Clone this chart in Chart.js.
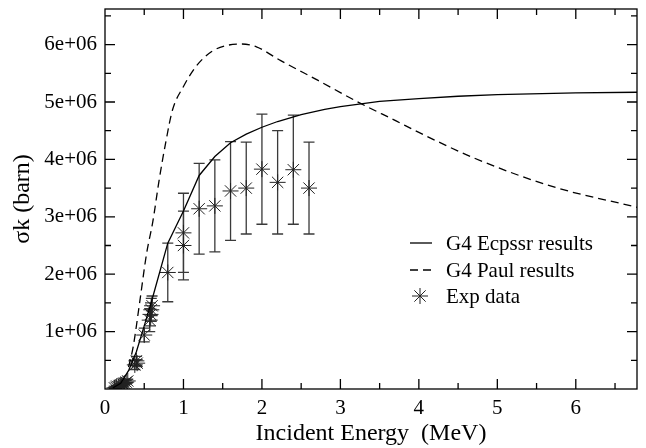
<!DOCTYPE html>
<html>
<head>
<meta charset="utf-8">
<script src="https://cdn.jsdelivr.net/npm/chart.js@4/dist/chart.umd.min.js"></script>
<style>
  html, body { margin: 0; padding: 0; background: #fff; }
  #grfk { display: block; }
</style>
</head>
<body>
<canvas id="grfk" width="646" height="448"></canvas>
<script>
// G4 Ecpssr (solid)
const ecpssrE = [0.1, 0.2, 0.3, 0.4, 0.5, 0.6, 0.8, 1.0, 1.2, 1.4, 1.6, 1.8, 2.0, 2.2, 2.5, 2.8, 3.0, 3.5, 4.0, 4.5, 5.0, 6.0, 6.8];
const ecpssrSigma = [0.02e6, 0.1e6, 0.32e6, 0.65e6, 1.1e6, 1.56e6, 2.54e6, 3.1e6, 3.72e6, 4.05e6, 4.29e6, 4.44e6, 4.56e6, 4.66e6, 4.78e6, 4.87e6, 4.92e6, 5.01e6, 5.06e6, 5.1e6, 5.13e6, 5.16e6, 5.17e6];

// G4 Paul (dashed)
const paulE = [0.3, 0.36, 0.44, 0.53, 0.61, 0.69, 0.78, 0.86, 1.0, 1.16, 1.36, 1.57, 1.74, 1.93, 2.24, 2.71, 3.25, 3.71, 4.0, 4.71, 5.72, 6.8];
const paulSigma = [0.38e6, 0.74e6, 1.49e6, 2.36e6, 2.92e6, 3.64e6, 4.34e6, 4.86e6, 5.27e6, 5.62e6, 5.88e6, 5.99e6, 6.01e6, 5.96e6, 5.72e6, 5.38e6, 4.98e6, 4.67e6, 4.47e6, 4.02e6, 3.52e6, 3.16e6];

// Exp data
const expE = [0.12, 0.14, 0.15, 0.17, 0.18, 0.20, 0.21, 0.23, 0.25, 0.27, 0.29, 0.38, 0.40, 0.41, 0.50, 0.57, 0.58, 0.59, 0.60, 0.80, 1.00, 1.00, 1.20, 1.40, 1.60, 1.80, 2.00, 2.20, 2.40, 2.60];
const expSigma = [0.02e6, 0.03e6, 0.05e6, 0.04e6, 0.06e6, 0.07e6, 0.05e6, 0.09e6, 0.1e6, 0.12e6, 0.14e6, 0.42e6, 0.49e6, 0.45e6, 0.94e6, 1.2e6, 1.3e6, 1.38e6, 1.45e6, 2.03e6, 2.5e6, 2.72e6, 3.14e6, 3.19e6, 3.45e6, 3.5e6, 3.83e6, 3.6e6, 3.82e6, 3.5e6];
const expErr = [0.01e6, 0.01e6, 0.01e6, 0.01e6, 0.01e6, 0.02e6, 0.02e6, 0.02e6, 0.02e6, 0.03e6, 0.03e6, 0.08e6, 0.08e6, 0.06e6, 0.12e6, 0.2e6, 0.2e6, 0.2e6, 0.17e6, 0.51e6, 0.6e6, 0.69e6, 0.79e6, 0.8e6, 0.86e6, 0.8e6, 0.96e6, 0.9e6, 0.95e6, 0.8e6];

const xTickVals = [0, 1, 2, 3, 4, 5, 6];
const yTickVals = [1e6, 2e6, 3e6, 4e6, 5e6, 6e6];
const yTickLabels = ['1e+06', '2e+06', '3e+06', '4e+06', '5e+06', '6e+06'];

const serif = '"Liberation Serif", "DejaVu Serif", serif';

// error bars, inward ticks, frame
const cerceve = {
    id: 'cerceve',
    beforeDatasetsDraw(chart) {
        const ctx = chart.ctx;
        const xs = chart.scales.x, ys = chart.scales.y;
        ctx.save();
        ctx.strokeStyle = '#3a3a3a';
        ctx.lineWidth = 1.3;
        expE.forEach((e, i) => {
            const px = xs.getPixelForValue(e);
            const top = ys.getPixelForValue(expSigma[i] + expErr[i]);
            const bot = ys.getPixelForValue(expSigma[i] - expErr[i]);
            ctx.beginPath();
            ctx.moveTo(px, top); ctx.lineTo(px, bot);
            ctx.moveTo(px - 5.5, top); ctx.lineTo(px + 5.5, top);
            ctx.moveTo(px - 5.5, bot); ctx.lineTo(px + 5.5, bot);
            ctx.stroke();
        });
        ctx.restore();
    },
    afterDraw(chart) {
        const ctx = chart.ctx;
        const a = chart.chartArea;
        const xs = chart.scales.x, ys = chart.scales.y;
        ctx.save();
        ctx.strokeStyle = '#000';
        ctx.lineWidth = 1.3;
        ctx.beginPath();
        for (let v = 0.5; v < xs.max; v += 0.5) {
            const px = xs.getPixelForValue(v);
            const len = Number.isInteger(v) ? 10 : 6;
            ctx.moveTo(px, a.bottom); ctx.lineTo(px, a.bottom - len);
            ctx.moveTo(px, a.top); ctx.lineTo(px, a.top + len);
        }
        for (let v = 0.5e6; v < ys.max; v += 0.5e6) {
            const py = ys.getPixelForValue(v);
            const len = (v % 1e6 === 0) ? 10 : 6;
            ctx.moveTo(a.left, py); ctx.lineTo(a.left + len, py);
            ctx.moveTo(a.right, py); ctx.lineTo(a.right - len, py);
        }
        ctx.stroke();
        ctx.strokeRect(a.left, a.top, a.right - a.left, a.bottom - a.top);

        // legend
        const ds = chart.data.datasets;
        ctx.font = '21px ' + serif;
        ctx.fillStyle = '#000';
        ctx.textBaseline = 'middle';
        const rows = [243, 270, 296];
        ds.forEach((d, i) => {
            const y = rows[i];
            ctx.strokeStyle = '#000';
            ctx.lineWidth = 1.3;
            ctx.beginPath();
            if (d.pointStyle === 'star') {
                ctx.strokeStyle = '#222';
                ctx.lineWidth = 1;
                const r = 8, cx = 420;
                const q = r * Math.SQRT1_2;
                ctx.moveTo(cx - r, y); ctx.lineTo(cx + r, y);
                ctx.moveTo(cx, y - r); ctx.lineTo(cx, y + r);
                ctx.moveTo(cx - q, y - q); ctx.lineTo(cx + q, y + q);
                ctx.moveTo(cx - q, y + q); ctx.lineTo(cx + q, y - q);
            } else {
                ctx.setLineDash(d.borderDash || []);
                ctx.moveTo(410, y); ctx.lineTo(432, y);
            }
            ctx.stroke();
            ctx.setLineDash([]);
            ctx.fillText(d.label, 446, y + 1);
        });
        ctx.restore();
    }
};

const ct = document.getElementById('grfk').getContext('2d');
const grfgm = new Chart(ct, {
    type: 'scatter',
    data: {
        datasets: [{
            label: 'G4 Ecpssr results',
            data: ecpssrE.map((e, i) => ({ x: e, y: ecpssrSigma[i] })),
            showLine: true,
            borderColor: '#000',
            borderWidth: 1.3,
            pointRadius: 0,
            fill: false
        }, {
            label: 'G4 Paul results',
            data: paulE.map((e, i) => ({ x: e, y: paulSigma[i] })),
            showLine: true,
            borderColor: '#000',
            borderWidth: 1.3,
            borderDash: [8, 5],
            pointRadius: 0,
            cubicInterpolationMode: 'monotone',
            fill: false
        }, {
            label: 'Exp data',
            data: expE.map((e, i) => ({ x: e, y: expSigma[i] })),
            showLine: false,
            pointStyle: 'star',
            pointRadius: 8,
            borderColor: '#222',
            backgroundColor: '#222',
            pointBorderWidth: 1
        }]
    },
    options: {
        responsive: false,
        animation: false,
        devicePixelRatio: 1,
        layout: { padding: { top: 9, right: 1, left: 0, bottom: 0 } },
        plugins: {
            legend: { display: false },
            tooltip: { enabled: false }
        },
        scales: {
            x: {
                type: 'linear',
                min: 0,
                max: 6.78,
                afterBuildTicks: s => { s.ticks = xTickVals.map(v => ({ value: v })); },
                afterFit: s => { s.height = 59; s.paddingLeft = 0; s.paddingRight = 0; },
                grid: { display: false, drawTicks: false },
                border: { display: false },
                ticks: {
                    color: '#000',
                    font: { family: serif, size: 21 },
                    padding: 7,
                    maxRotation: 0,
                    callback: v => String(v)
                },
                title: {
                    display: true,
                    text: 'Incident Energy  (MeV)',
                    color: '#000',
                    font: { family: serif, size: 24 },
                    padding: { top: 0, bottom: 0 }
                }
            },
            y: {
                type: 'linear',
                min: 0,
                max: 6.62e6,
                afterBuildTicks: s => { s.ticks = yTickVals.map(v => ({ value: v })); },
                afterFit: s => { s.width = 105; s.paddingTop = 0; s.paddingBottom = 0; },
                grid: { display: false, drawTicks: false },
                border: { display: false },
                ticks: {
                    color: '#000',
                    font: { family: serif, size: 21 },
                    padding: 8,
                    callback: (v, i) => yTickLabels[i]
                },
                title: {
                    display: true,
                    text: 'σk (barn)',
                    color: '#000',
                    font: { family: serif, size: 24 },
                    padding: { top: 8, bottom: 0 }
                }
            }
        }
    },
    plugins: [cerceve]
});
</script>
</body>
</html>
